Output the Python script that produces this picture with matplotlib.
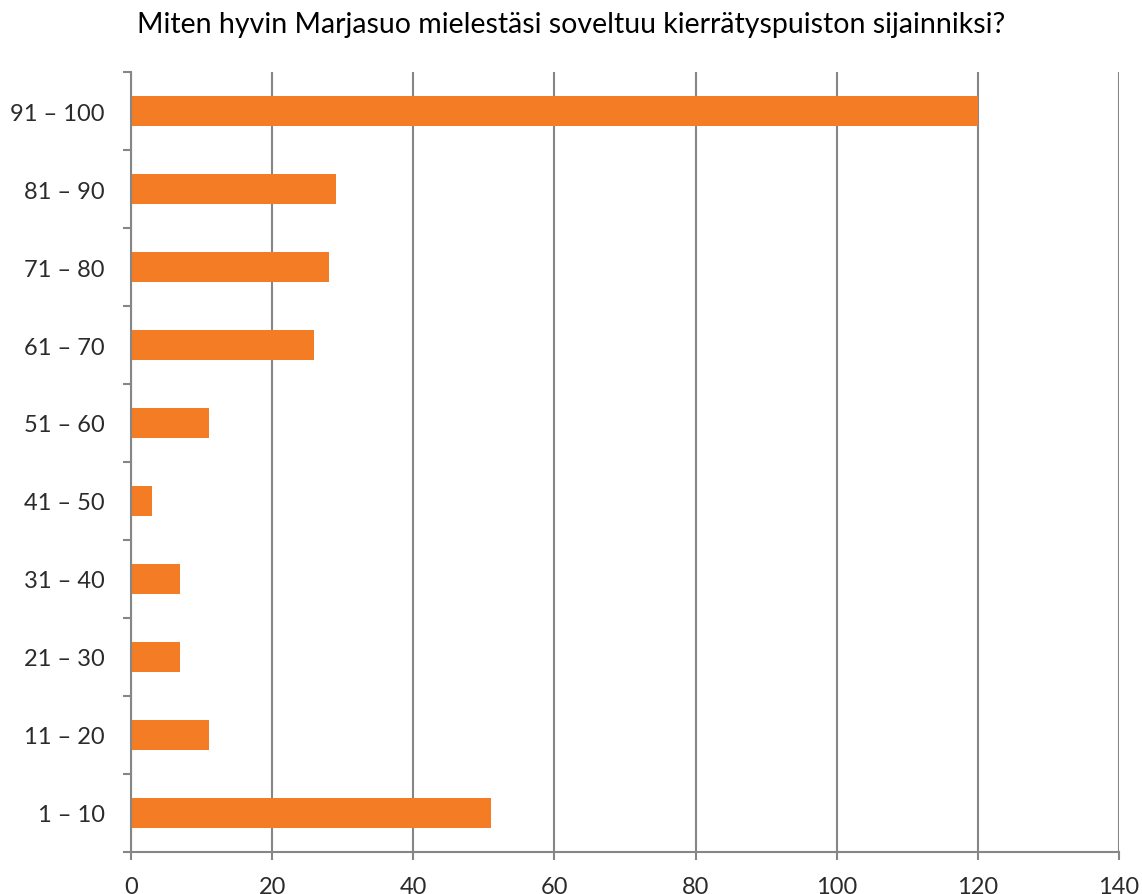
import numpy as np
import matplotlib.pyplot as plt
from matplotlib.ticker import FixedLocator

plt.rcParams['font.family'] = ['Lato', 'DejaVu Sans']

# Survey answers, grouped by score range
categories = ['1 – 10', '11 – 20', '21 – 30', '31 – 40', '41 – 50',
              '51 – 60', '61 – 70', '71 – 80', '81 – 90', '91 – 100']
counts = [51, 11, 7, 7, 3, 11, 26, 28, 29, 120]

title = 'Miten hyvin Marjasuo mielestäsi soveltuu kierrätyspuiston sijainniksi?'

bar_color = '#F47C24'
grid_color = '#868686'
text_color = '#2b2b2b'

fig = plt.figure(figsize=(11.42, 8.95), dpi=100)
ax = fig.add_axes([131 / 1142, 1 - 853 / 895, (1119 - 131) / 1142, (853 - 73) / 895])

y = np.arange(len(categories))
ax.barh(y, counts, height=0.385, color=bar_color, zorder=3)

ax.set_xlim(0, 140)
ax.set_ylim(-0.5, len(categories) - 0.5)
ax.set_xticks(np.arange(0, 141, 20))

# labels sit at category centres, tick marks at the boundaries
ax.set_yticks(y)
ax.set_yticklabels(categories)
ax.yaxis.set_minor_locator(FixedLocator(np.arange(-0.5, len(categories), 1.0)))
ax.tick_params(axis='y', which='major', length=0, pad=19, labelsize=17, labelcolor=text_color)
ax.tick_params(axis='y', which='minor', length=6, width=1.5, color=grid_color)
ax.tick_params(axis='x', which='major', length=6, width=1.5, color=grid_color,
               pad=11, labelsize=17, labelcolor=text_color)

ax.grid(axis='x', color=grid_color, linewidth=1.5, zorder=0)
for side in ['top', 'right']:
    ax.spines[side].set_visible(False)
for side in ['left', 'bottom']:
    ax.spines[side].set_color(grid_color)
    ax.spines[side].set_linewidth(1.5)
    ax.spines[side].set_zorder(4)

fig.text(0.5, 1 - 25 / 895, title, ha='center', va='center', fontsize=20.5, color='black')

fig.savefig('out.png', dpi=100)
